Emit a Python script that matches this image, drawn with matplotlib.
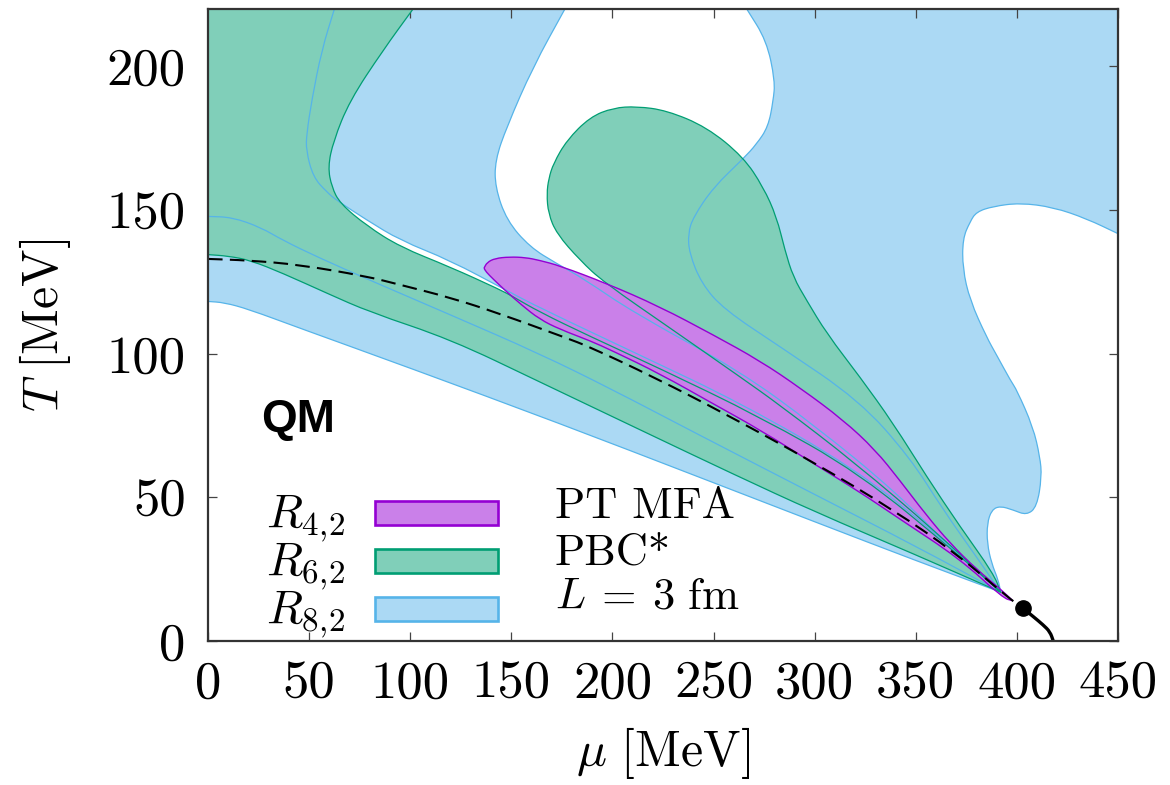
import matplotlib
matplotlib.use("Agg")
import matplotlib.pyplot as plt
from matplotlib.patches import Rectangle, PathPatch
from matplotlib.path import Path

plt.rcParams['mathtext.fontset'] = 'cm'

# ---------------------------------------------------------------- colours
BLUE, BLUE_FILL = '#56b4e9', '#abd9f4'
GREEN, GREEN_FILL = '#009e73', '#80cfb9'
PURPLE, PURPLE_FILL = '#9400d3', '#ca80e9'

# ---------------------------------------------------------------- axes
x_ticks = [0, 50, 100, 150, 200, 250, 300, 350, 400, 450]
y_ticks = [0, 50, 100, 150, 200]
x_tick_labels = ['0', '50', '100', '150', '200', '250', '300', '350', '400', '450']
y_tick_labels = ['0', '50', '100', '150', '200']

# ---------------------------------------------------------------- R_{8,2} contours (mu, T) in MeV
# lower band, bottom edge
r82_band_lower_mu = [0, 8, 20, 45, 100, 174, 243, 300, 350, 392]
r82_band_lower_T = [118.2, 117.8, 115.5, 109, 95, 75.7, 57, 41.5, 28, 17]
# lower band, top edge
r82_band_upper_mu = [0, 12, 26, 37, 54, 80, 120, 164, 200, 238, 300, 350, 392]
r82_band_upper_T = [147.8, 147.5, 144, 139.5, 133.7, 125.6, 113.5, 100, 87.5, 73.5, 51, 33, 17]
# middle region, left edge
r82_mid_left_mu = [62.5, 56.2, 51.3, 48.8, 48.5, 52, 58.7, 63.6, 78.6, 95, 119.7, 147.7,
                   164, 213.6, 263, 320, 360, 392]
r82_mid_left_T = [220, 205.6, 188.2, 176.6, 170.8, 161.5, 156.3, 153.4, 146.5, 139.5, 132.5, 122,
                  116, 99.5, 83, 60, 37.5, 17]
# middle region, right edge
r82_hole_left_mu = [176.5, 160.7, 147.7, 142, 142, 147.7, 159.2, 172.4, 186, 210, 263, 300, 340, 370, 392]
r82_hole_left_T = [220, 199.8, 178.9, 167.3, 158, 146.4, 137.1, 131.4, 126, 114.5, 94, 75, 52, 30.5, 17]
# right region, left edge
r82_hole_right_mu = [266.4, 276.2, 280.4, 279.5, 277, 271.3, 264.7, 250, 240, 237.4, 238, 244, 255,
                     283, 322, 347, 363.6, 380, 392]
r82_hole_right_T = [220, 209, 195, 188, 179, 173, 167.9, 158, 147.6, 141.9, 135, 124.5, 115.5,
                    102.4, 83.8, 64, 45.6, 29.3, 17]
# right region, outer edge
r82_outer_mu = [450, 434.5, 418, 401.5, 388.3, 380, 376.8, 373.2, 373.2, 376.8, 385, 390, 397, 400,
                408, 411.4, 412.3, 409.9, 404.8, 398.2, 391.6, 387.5, 385.3, 385.3, 387.5, 390.8, 392]
r82_outer_T = [141.8, 147, 151, 152.5, 151.3, 149.4, 145.9, 140, 129.6, 118.6, 105.8, 99.5, 90.5, 87.3,
               74.5, 64.1, 57.2, 46.7, 43.8, 45.6, 47, 45.6, 40.9, 34, 27, 21.2, 17]

# ---------------------------------------------------------------- R_{6,2} contours
r62_lower_mu = [0, 10, 21, 37, 59, 80, 120, 164, 214, 260, 300, 350, 392]
r62_lower_T = [134.5, 134, 132.5, 128, 121, 114.5, 105, 90.2, 73.4, 58, 45, 30, 17]
r62_left_mu = [101.4, 86.5, 70, 62, 59.3, 61.2, 65.3, 78.6, 95, 119.7, 144.4, 151, 164, 189,
               223, 273, 322, 372, 392]
r62_left_T = [220, 205.6, 188, 174, 165, 158, 152.3, 144.5, 137.2, 130.2, 122.3, 119.8, 114.5, 106,
              95, 78, 58.5, 29.5, 17]
r62_lobe_mu = [392, 360, 320, 283, 263, 230, 195.5, 184, 172.4, 168.3, 167.5, 168.5, 170.8, 177.4,
               188.9, 200.4, 212, 226.8, 246.6, 264.7, 274.6, 281.2, 285.3, 289.4, 296, 306, 322.4,
               338.9, 355.4, 371.9, 388.4, 392]
r62_lobe_T = [17, 38, 62, 82, 92, 108.2, 125, 132.5, 141.8, 148.8, 155.7, 161, 166.2, 174.3,
              182.4, 185.6, 186.1, 184.7, 178.9, 168.5, 158, 147.6, 136, 126.7, 118.6, 107, 91.9,
              75.7, 57.2, 39.8, 23.5, 17]

# ---------------------------------------------------------------- R_{4,2} contour
r42_upper_mu = [136.5, 138, 142, 149, 157, 164, 174, 197, 223, 250, 273, 293, 314, 330, 342,
                355, 367, 380, 392, 398]
r42_upper_T = [129.8, 131.8, 133.2, 133.7, 133.5, 132.5, 130.6, 124.5, 116.5, 106.5, 97.5, 88, 77,
               66.5, 56, 44, 34, 25, 18, 14]
r42_lower_mu = [398, 393, 372, 342, 322, 300, 273, 250, 223.5, 200, 189, 174, 164, 155, 147, 141,
                137.5, 136.5]
r42_lower_T = [14, 15, 28.5, 42.5, 52, 61.5, 73.5, 82.5, 93, 101, 104.5, 108.5, 112, 117, 122, 126,
               128.5, 129.8]

# ---------------------------------------------------------------- phase structure
crossover_mu = [0, 20, 45, 78, 95, 120, 144, 176, 189, 220, 256, 300, 339, 370, 395, 403]
crossover_T = [133, 132.5, 131, 127, 124, 119.5, 114, 105.8, 102.3, 92, 79, 62, 45.6, 30.5, 15.5, 11.4]
cep_mu, cep_T = 403, 11.4
first_order_mu = [403, 408.1, 413, 416.4, 418]
first_order_T = [11.4, 8.5, 5.6, 3.2, 0]


def rev(c):
    return (c[0][::-1], c[1][::-1])


def smooth_path(*curves, close=False):
    """Join curves into one Path; inside each curve the vertices act as
    quadratic Bezier control points, curves are joined by straight lines."""
    verts, codes = [], []
    for k, (xs, ys) in enumerate(curves):
        pts = list(zip(xs, ys))
        verts.append(pts[0])
        codes.append(Path.MOVETO if k == 0 else Path.LINETO)
        if len(pts) == 1:
            continue
        if len(pts) == 2:
            verts.append(pts[1]); codes.append(Path.LINETO)
            continue
        m = ((pts[0][0] + pts[1][0]) / 2, (pts[0][1] + pts[1][1]) / 2)
        verts.append(m); codes.append(Path.LINETO)
        for i in range(1, len(pts) - 1):
            m = ((pts[i][0] + pts[i + 1][0]) / 2, (pts[i][1] + pts[i + 1][1]) / 2)
            verts += [pts[i], m]
            codes += [Path.CURVE3, Path.CURVE3]
        verts.append(pts[-1]); codes.append(Path.LINETO)
    if close:
        verts.append(verts[0]); codes.append(Path.CLOSEPOLY)
    return Path(verts, codes)


# ---------------------------------------------------------------- figure
fig = plt.figure(figsize=(11.7, 7.85), dpi=100)
ax = fig.add_axes([208 / 1170, 144 / 785, 910 / 1170, 632 / 785])
ax.set_xlim(0, 450)
ax.set_ylim(0, 220)

band_lower = (r82_band_lower_mu, r82_band_lower_T)
band_upper = (r82_band_upper_mu, r82_band_upper_T)
mid_left = (r82_mid_left_mu, r82_mid_left_T)
hole_left = (r82_hole_left_mu, r82_hole_left_T)
hole_right = (r82_hole_right_mu, r82_hole_right_T)
outer = (r82_outer_mu, r82_outer_T)
g_lower = (r62_lower_mu, r62_lower_T)
g_left = (r62_left_mu, r62_left_T)
g_lobe = (r62_lobe_mu, r62_lobe_T)
p_loop = (r42_upper_mu + r42_lower_mu, r42_upper_T + r42_lower_T)

# filled regions: R_{8,2} below, R_{6,2} on top, R_{4,2} uppermost
fills = [
    (smooth_path(band_lower, rev(band_upper), close=True), BLUE_FILL, 1),
    (smooth_path(mid_left, rev(hole_left), close=True), BLUE_FILL, 1),
    (smooth_path(hole_right, rev(outer), ([450, 450], [141.8, 220]), close=True), BLUE_FILL, 1),
    (smooth_path(g_lower, rev(g_left), ([0], [220]), close=True), GREEN_FILL, 2),
    (smooth_path(g_lobe, close=True), GREEN_FILL, 2),
    (smooth_path(p_loop, close=True), PURPLE_FILL, 3),
]
for path, fc, z in fills:
    ax.add_patch(PathPatch(path, facecolor=fc, lw=0, zorder=z))

# contour lines drawn over all fills
for c in [band_lower, band_upper, mid_left, hole_left, hole_right, outer]:
    ax.add_patch(PathPatch(smooth_path(c), fill=False, edgecolor=BLUE, lw=0.9, zorder=4))
for c in [g_lower, g_left, g_lobe]:
    ax.add_patch(PathPatch(smooth_path(c), fill=False, edgecolor=GREEN, lw=0.9, zorder=5))
ax.add_patch(PathPatch(smooth_path(p_loop), fill=False, edgecolor=PURPLE, lw=1.0, zorder=6))

# crossover, critical end point and first-order line
ax.add_patch(PathPatch(smooth_path((crossover_mu, crossover_T)), fill=False, edgecolor='black',
                       lw=1.5, linestyle=(0, (7, 3.5)), zorder=7))
ax.add_patch(PathPatch(smooth_path((first_order_mu, first_order_T)), fill=False,
                       edgecolor='black', lw=2.4, capstyle='butt', zorder=8))
ax.plot([cep_mu], [cep_T], 'o', color='black', ms=11, zorder=9)

# ---------------------------------------------------------------- ticks and labels
ax.set_xticks(x_ticks)
ax.set_xticklabels(x_tick_labels, fontfamily='cmr10', fontsize=38)
ax.set_yticks(y_ticks)
ax.set_yticklabels(y_tick_labels, fontfamily='cmr10', fontsize=38)
ax.tick_params(direction='in', length=6.5, width=0.9, top=True, right=True, color='#444444')
ax.tick_params(axis='x', pad=14)
ax.tick_params(axis='y', pad=16)
for s in ax.spines.values():
    s.set_linewidth(1.6)
    s.set_color('#333333')
    s.set_zorder(10)

ax.set_xlabel(r'$\mu\ [\mathrm{MeV}]$', fontsize=36, labelpad=13)
ax.set_ylabel(r'$T\ [\mathrm{MeV}]$', fontsize=36, labelpad=24)

ax.text(26.5, 72.7, 'QM', fontfamily='Liberation Sans', fontweight='bold', fontsize=33,
        ha='left', va='baseline', zorder=11)

# ---------------------------------------------------------------- legend
legend_rows = [(r'$R_{4,\!2}$', PURPLE_FILL, PURPLE),
               (r'$R_{6,\!2}$', GREEN_FILL, GREEN),
               (r'$R_{8,\!2}$', BLUE_FILL, BLUE)]
box_x0, box_w, box_h = 0.1835, 0.1352, 0.038
box_y0 = [0.1835, 0.1076, 0.0316]
for (lab, fc, ec), y0 in zip(legend_rows, box_y0):
    ax.add_patch(Rectangle((box_x0, y0), box_w, box_h, transform=ax.transAxes,
                           facecolor=fc, edgecolor=ec, lw=1.9, zorder=11))
    ax.text(0.1505, y0 - 0.004, lab, transform=ax.transAxes, fontsize=34,
            ha='right', va='baseline', zorder=11)

info_lines = [('PT MFA', 'cmr10'), ('PBC*', 'cmr10'), (r'$L \:=\: 3\ \mathrm{fm}$', None)]
info_y = [0.194, 0.1203, 0.0517]
for (txt, fam), y in zip(info_lines, info_y):
    kw = dict(fontfamily=fam) if fam else {}
    ax.text(0.3813, y, txt, transform=ax.transAxes, fontsize=32,
            ha='left', va='baseline', zorder=11, **kw)

fig.savefig('out.png', dpi=100)
